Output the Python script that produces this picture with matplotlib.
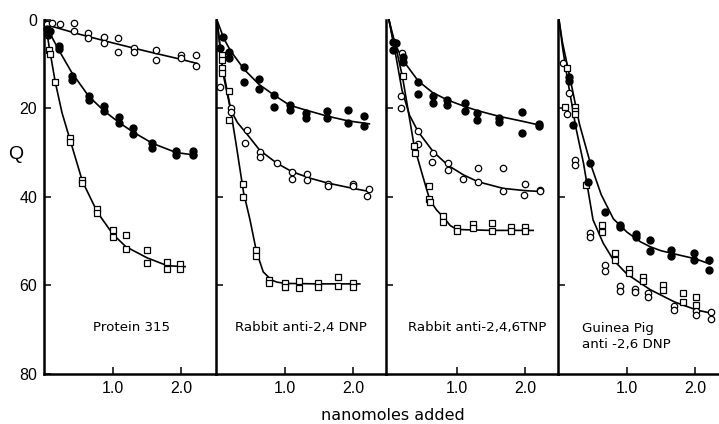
import matplotlib
matplotlib.use('Agg')
import matplotlib.pyplot as plt

plt.rcParams['font.family'] = ['Liberation Sans', 'DejaVu Sans']

# ---- data (x = nanomoles added, Q) -------------------------------------------
# panel 1: Protein 315
p1_open_x = [0.03, 0.10, 0.22, 0.43, 0.43, 0.63, 0.63, 0.87, 0.87, 1.07, 1.07, 1.31, 1.31, 1.63, 1.63, 2.00, 2.00, 2.22, 2.22]
p1_open_q = [0.8, 0.6, 0.9, 0.75, 2.6, 2.9, 4.1, 3.8, 5.2, 4.0, 7.2, 6.3, 7.2, 6.8, 9.0, 7.9, 8.6, 7.9, 10.4]
p1_fill_x = [0.03, 0.05, 0.07, 0.21, 0.21, 0.39, 0.39, 0.64, 0.64, 0.87, 0.87, 1.09, 1.09, 1.29, 1.29, 1.58, 1.58, 1.93, 1.93, 2.17, 2.17]
p1_fill_q = [2.0, 3.5, 2.6, 5.8, 6.5, 12.6, 13.6, 17.2, 18.2, 19.5, 20.5, 22.0, 23.2, 24.5, 25.7, 27.8, 29.0, 29.6, 30.6, 29.6, 30.6]
p1_sq_x = [0.06, 0.07, 0.15, 0.37, 0.37, 0.55, 0.55, 0.77, 0.77, 1.00, 1.00, 1.19, 1.19, 1.50, 1.50, 1.79, 1.79, 1.99, 1.99]
p1_sq_q = [6.8, 7.6, 14.0, 26.8, 27.6, 36.2, 36.9, 42.8, 43.6, 47.5, 49.0, 48.6, 51.7, 52.0, 55.0, 54.7, 56.4, 55.3, 56.3]
p1_curves = [
    ([0, 0.07, 0.5, 1.0, 1.5, 2.0, 2.23], [0, 1.3, 3.2, 5.2, 7.1, 8.9, 9.8]),
    ([0, 0.07, 0.21, 0.39, 0.64, 0.87, 1.09, 1.29, 1.58, 1.93, 2.23], [0, 3, 7, 11.8, 17.2, 20.6, 23.2, 25.3, 27.9, 30.0, 30.6]),
    ([0, 0.06, 0.15, 0.25, 0.37, 0.55, 0.77, 1.0, 1.19, 1.5, 1.8, 2.06], [0, 6, 14, 21, 27.2, 36.5, 43.5, 48.5, 51.3, 53.8, 55.6, 55.8]),
]

# panel 2: Rabbit anti-2,4 DNP
p2_open_x = [0.04, 0.20, 0.20, 0.44, 0.41, 0.63, 0.63, 0.88, 1.10, 1.10, 1.33, 1.33, 1.63, 1.63, 2.00, 2.00, 2.23, 2.21]
p2_open_q = [15.1, 19.8, 20.8, 24.9, 27.8, 29.8, 31.0, 32.4, 34.3, 36.0, 34.8, 36.3, 37.0, 37.5, 37.0, 37.5, 38.3, 39.8]
p2_fill_x = [0.04, 0.09, 0.17, 0.17, 0.40, 0.40, 0.62, 0.62, 0.84, 0.84, 1.07, 1.07, 1.31, 1.31, 1.61, 1.61, 1.92, 1.92, 2.16, 2.16]
p2_fill_q = [6.4, 3.8, 7.2, 8.7, 10.6, 14.0, 13.4, 15.7, 17.0, 19.6, 19.2, 20.4, 21.1, 22.2, 20.7, 22.2, 20.4, 23.2, 21.7, 24.0]
p2_sq_x = [0.07, 0.07, 0.08, 0.08, 0.18, 0.17, 0.38, 0.38, 0.58, 0.58, 0.77, 0.77, 1.00, 1.00, 1.20, 1.20, 1.48, 1.48, 1.78, 1.78, 2.00, 2.00]
p2_sq_q = [7.9, 9.0, 10.9, 12.0, 16.0, 22.6, 37.0, 40.1, 52.0, 53.5, 58.8, 59.4, 59.6, 60.3, 59.0, 60.7, 59.6, 60.3, 58.2, 60.1, 59.6, 60.3]
p2_curves = [
    ([0, 0.1, 0.2, 0.4, 0.62, 0.84, 1.07, 1.31, 1.61, 1.92, 2.24], [0, 4.2, 7.0, 11.2, 14.6, 17.0, 19.3, 20.4, 21.7, 22.8, 23.5]),
    ([0, 0.05, 0.1, 0.2, 0.3, 0.44, 0.63, 0.88, 1.1, 1.37, 1.63, 2.0, 2.24], [0, 7, 13, 20.3, 23.2, 25.8, 29.5, 32.4, 34.3, 35.8, 36.9, 38.1, 38.8]),
    ([0, 0.08, 0.18, 0.28, 0.39, 0.485, 0.58, 0.68, 0.8, 0.88, 1.0, 1.5, 2.1], [0, 10.5, 18.5, 28, 39, 45.2, 52.4, 57, 58.8, 59.3, 59.6, 59.7, 59.7]),
]

# panel 3: Rabbit anti-2,4,6TNP
p3_open_x = [0.19, 0.17, 0.17, 0.42, 0.43, 0.64, 0.63, 0.87, 0.87, 1.09, 1.31, 1.31, 1.68, 1.67, 2.00, 1.99, 2.22, 2.22]
p3_open_q = [7.5, 17.3, 19.8, 25.1, 28.1, 30.2, 32.2, 32.3, 34.0, 36.0, 33.4, 36.6, 33.4, 38.6, 37.0, 39.6, 38.5, 38.7]
p3_fill_x = [0.06, 0.06, 0.11, 0.21, 0.21, 0.43, 0.43, 0.64, 0.64, 0.86, 0.86, 1.12, 1.12, 1.30, 1.30, 1.62, 1.62, 1.96, 1.96, 2.20, 2.20]
p3_fill_q = [4.9, 6.8, 5.3, 8.3, 9.4, 14.0, 16.8, 17.3, 18.7, 18.1, 19.2, 18.7, 20.7, 21.1, 22.6, 22.2, 23.1, 20.9, 25.5, 23.5, 24.0]
p3_sq_x = [0.20, 0.37, 0.38, 0.59, 0.59, 0.60, 0.80, 0.80, 1.00, 1.00, 1.24, 1.24, 1.51, 1.51, 1.80, 1.80, 2.00, 2.00]
p3_sq_q = [12.7, 28.4, 30.2, 37.6, 40.6, 41.1, 44.3, 45.6, 47.1, 47.8, 46.2, 47.1, 46.0, 47.8, 46.8, 47.7, 46.8, 47.7]
p3_curves = [
    ([0, 0.06, 0.21, 0.43, 0.64, 0.86, 1.12, 1.30, 1.62, 1.96, 2.22], [0, 4.5, 9.2, 13.8, 16.4, 18.1, 19.6, 20.5, 21.8, 22.9, 23.8]),
    ([0, 0.1, 0.19, 0.3, 0.43, 0.65, 0.87, 1.09, 1.31, 1.68, 2.0, 2.22], [0, 8, 15.8, 21.5, 25.3, 29.8, 32.9, 35.0, 36.6, 38.1, 38.6, 38.8]),
    ([0, 0.1, 0.2, 0.37, 0.5, 0.6, 0.7, 0.8, 0.9, 1.0, 1.5, 2.12], [0, 6, 13, 28.5, 35.5, 40.7, 43.0, 44.6, 46.5, 47.4, 47.6, 47.6]),
]

# panel 4: Guinea Pig anti-2,6 DNP
p4_open_x = [0.06, 0.14, 0.11, 0.24, 0.24, 0.45, 0.45, 0.67, 0.67, 0.89, 0.89, 1.12, 1.12, 1.31, 1.31, 1.69, 1.69, 2.01, 2.01, 2.24, 2.24]
p4_open_q = [9.8, 16.6, 21.3, 31.7, 32.8, 48.3, 49.2, 55.4, 56.9, 60.2, 61.2, 60.9, 61.6, 61.8, 62.7, 64.7, 65.6, 65.8, 66.7, 66.1, 67.6]
p4_fill_x = [0.14, 0.14, 0.21, 0.45, 0.42, 0.68, 0.89, 0.89, 1.13, 1.13, 1.34, 1.34, 1.64, 1.64, 1.98, 1.98, 2.21, 2.21]
p4_fill_q = [12.8, 13.9, 23.8, 32.4, 36.6, 43.5, 46.4, 46.9, 48.4, 49.2, 49.8, 52.2, 52.0, 53.3, 52.8, 54.4, 54.3, 56.6]
p4_sq_x = [0.11, 0.09, 0.24, 0.24, 0.24, 0.40, 0.63, 0.63, 0.82, 0.82, 1.03, 1.03, 1.23, 1.23, 1.53, 1.53, 1.83, 1.83, 2.01, 2.01]
p4_sq_q = [10.9, 19.6, 19.6, 20.5, 21.3, 37.3, 46.4, 47.9, 52.8, 54.4, 56.4, 57.2, 58.1, 59.0, 60.0, 61.1, 61.8, 63.7, 62.6, 64.4]
p4_curves = [
    ([0, 0.05, 0.16, 0.3, 0.46, 0.62, 0.8, 1.0, 1.2, 1.34, 1.5, 1.8, 2.0, 2.22], [0, 5, 13, 23.5, 32.4, 39.5, 45, 48.0, 50.2, 51.3, 52.2, 53.3, 54.0, 55.2]),
    ([0, 0.05, 0.12, 0.25, 0.36, 0.5, 0.65, 0.8, 1.0, 1.34, 1.7, 2.02, 2.26], [0, 6, 13, 24.5, 32.4, 45.2, 50.5, 54.3, 57.5, 61, 63.8, 65.6, 66.4]),
]

panel_labels = ['Protein 315', 'Rabbit anti-2,4 DNP', 'Rabbit anti-2,4,6TNP', 'Guinea Pig\nanti -2,6 DNP']
y_ticks = [0, 20, 40, 60, 80]
x_ticks = [1.0, 2.0]

panels = [
    (p1_open_x, p1_open_q, p1_fill_x, p1_fill_q, p1_sq_x, p1_sq_q, p1_curves),
    (p2_open_x, p2_open_q, p2_fill_x, p2_fill_q, p2_sq_x, p2_sq_q, p2_curves),
    (p3_open_x, p3_open_q, p3_fill_x, p3_fill_q, p3_sq_x, p3_sq_q, p3_curves),
    (p4_open_x, p4_open_q, p4_fill_x, p4_fill_q, p4_sq_x, p4_sq_q, p4_curves),
]

# ---- layout (pixel geometry of the original) ---------------------------------
W, H = 719, 424
edges = [(44, 216, -0.015), (216, 386, -0.015), (386, 558, -0.044), (558, 719, -0.015)]
ppu = 68.0                 # pixels per nanomole
y_top, y_bot = 20, 373.6   # Q=0 and Q=80

fig = plt.figure(figsize=(W / 100, H / 100), dpi=100)
axes = []
for i, (l, r, x0) in enumerate(edges):
    ax = fig.add_axes([l / W, (H - y_bot) / H, (r - l) / W, (y_bot - y_top) / H])
    ax.set_xlim(x0, x0 + (r - l) / ppu)
    ax.set_ylim(80, 0)
    axes.append(ax)

label_pos = [(1.27, 69.5, 'center'), (1.24, 69.5, 'center'), (1.30, 69.5, 'center'), (0.34, 71.5, 'left')]

for i, ax in enumerate(axes):
    ox, oq, fx, fq, sx, sq, curves = panels[i]
    for cx, cq in curves:
        ax.plot(cx, cq, color='black', lw=1.2, clip_on=False, zorder=2)
    ax.plot(ox, oq, 'o', ms=4.6, mfc='white', mec='black', mew=0.9, ls='none', clip_on=False, zorder=3)
    ax.plot(sx, sq, 's', ms=4.4, mfc='white', mec='black', mew=0.9, ls='none', clip_on=False, zorder=3)
    ax.plot(fx, fq, 'o', ms=5.0, mfc='black', mec='black', ls='none', clip_on=False, zorder=4)

    for s in ['top', 'right']:
        ax.spines[s].set_visible(False)
    ax.spines['left'].set_linewidth(1.8)
    ax.spines['bottom'].set_linewidth(1.8)
    ax.set_xticks(x_ticks)
    ax.set_xticklabels(['1.0', '2.0'])
    ax.tick_params(axis='both', direction='in', length=5, width=1.1, labelsize=11.5, pad=5)
    if i == 0:
        ax.set_yticks(y_ticks)
        ax.set_yticklabels([str(v) for v in y_ticks])
    else:
        ax.set_yticks(y_ticks[1:-1])
        ax.set_yticklabels([])
    lx, lq, ha = label_pos[i]
    ax.text(lx, lq, panel_labels[i], ha=ha, va='center', fontsize=9.6,
            family='DejaVu Sans', linespacing=1.3)

axes[0].text(-0.43, 30.5, 'Q', ha='center', va='center', fontsize=14, transform=axes[0].transData)
fig.text(393 / W, 1 - 415 / H, 'nanomoles added', ha='center', va='center', fontsize=11.5,
         family='DejaVu Sans')

fig.savefig('out.png', dpi=100)
